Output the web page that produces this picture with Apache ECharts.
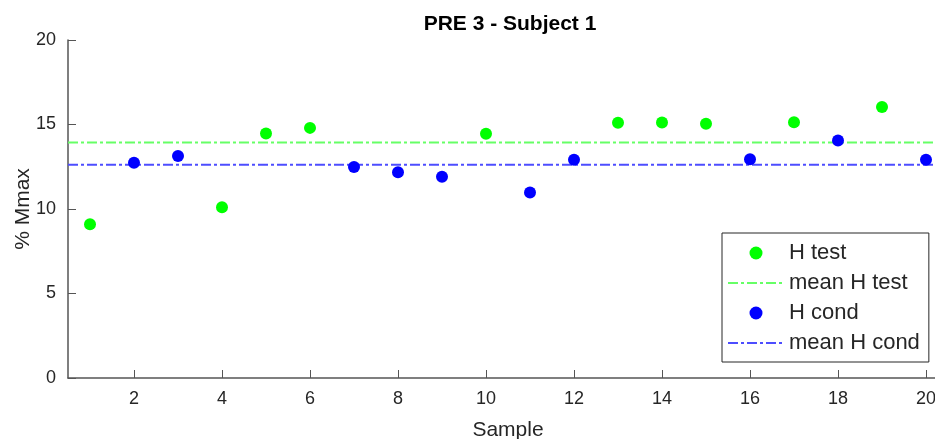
<!DOCTYPE html>
<html lang="en">
<head>
    <meta charset="UTF-8">
    <title>PRE 3 - Subject 1</title>
    <style>
        html, body { margin: 0; padding: 0; background: #fff; }
        #main { width: 935px; height: 439px; }
    </style>
</head>
<body>
    <div id="main"></div>
    <script src="https://cdn.jsdelivr.net/npm/echarts@6/dist/echarts.min.js"></script>
    <script>
        // samples and values (% Mmax)
        var testSamples = [1, 4, 5, 6, 10, 13, 14, 15, 17, 19];
        var testValues = [9.10, 10.10, 14.47, 14.80, 14.45, 15.10, 15.12, 15.04, 15.14, 16.03];
        var condSamples = [2, 3, 7, 8, 9, 11, 12, 16, 18, 20];
        var condValues = [12.74, 13.13, 12.48, 12.17, 11.91, 10.97, 12.92, 12.95, 14.06, 12.92];
        var xTicks = [2, 4, 6, 8, 10, 12, 14, 16, 18, 20];
        var yTicks = [0, 5, 10, 15, 20];
        var xRange = [0.5, 20.5];

        function mean(arr) {
            var s = 0;
            arr.forEach(function (v) { s += v; });
            return s / arr.length;
        }
        function pairs(xs, ys) {
            return xs.map(function (x, i) { return [x, ys[i]]; });
        }
        var testMean = mean(testValues);
        var condMean = mean(condValues);

        var textColor = '#262626';
        var axisColor = '#555555';
        var dashDot = [10, 3, 3, 3];
        var noSymbol = 'rgba(0,0,0,0)';

        var chart = echarts.init(document.getElementById('main'));
        chart.setOption({
            animation: false,
            title: {
                text: 'PRE 3 - Subject 1',
                left: 505,
                top: 9,
                textAlign: 'center',
                textStyle: { fontFamily: 'Liberation Sans', fontSize: 21, fontWeight: 'bold', color: '#000' }
            },
            grid: { left: 68, top: 40, width: 880, height: 338, outerBoundsMode: 'none', containLabel: false },
            legend: {
                orient: 'vertical',
                left: 722,
                top: 233,
                padding: [8, 9, 7, 5],
                itemWidth: 56,
                itemHeight: 13,
                itemGap: 6,
                borderColor: '#262626',
                borderWidth: 1,
                backgroundColor: '#fff',
                textStyle: { fontFamily: 'Liberation Sans', fontSize: 22, color: textColor, lineHeight: 24 },
                data: ['H test', 'mean H test', 'H cond', 'mean H cond']
            },
            xAxis: {
                type: 'value',
                min: xRange[0],
                max: xRange[1],
                name: 'Sample',
                nameLocation: 'middle',
                nameGap: 42,
                nameMoveOverlap: false,
                nameTextStyle: { fontFamily: 'Liberation Sans', fontSize: 21, color: textColor },
                splitLine: { show: false },
                axisLine: { onZero: false, lineStyle: { color: axisColor, width: 1.5 } },
                axisTick: { inside: true, length: 8, customValues: xTicks, lineStyle: { color: axisColor } },
                axisLabel: {
                    customValues: xTicks,
                    margin: 12,
                    fontFamily: 'Liberation Sans',
                    fontSize: 18,
                    color: textColor
                }
            },
            yAxis: {
                type: 'value',
                min: 0,
                max: 20,
                interval: 5,
                name: '% Mmax',
                nameLocation: 'middle',
                nameGap: 34,
                nameMoveOverlap: false,
                nameTextStyle: { fontFamily: 'Liberation Sans', fontSize: 21, color: textColor },
                splitLine: { show: false },
                axisLine: { show: true, lineStyle: { color: axisColor, width: 1.5 } },
                axisTick: { show: true, inside: true, length: 8, lineStyle: { color: axisColor } },
                axisLabel: {
                    customValues: yTicks,
                    margin: 12,
                    fontFamily: 'Liberation Sans',
                    fontSize: 18,
                    color: textColor
                }
            },
            series: [
                {
                    name: 'H test',
                    type: 'scatter',
                    symbol: 'circle',
                    symbolSize: 12,
                    itemStyle: { color: '#00ff00', opacity: 1 },
                    data: pairs(testSamples, testValues),
                    z: 3
                },
                {
                    name: 'mean H test',
                    type: 'line',
                    symbol: 'none',
                    lineStyle: { color: '#66ff66', width: 2, type: dashDot },
                    itemStyle: { color: noSymbol },
                    data: [[xRange[0], testMean], [xRange[1], testMean]],
                    z: 2
                },
                {
                    name: 'H cond',
                    type: 'scatter',
                    symbol: 'circle',
                    symbolSize: 12,
                    itemStyle: { color: '#0000ff', opacity: 1 },
                    data: pairs(condSamples, condValues),
                    z: 3
                },
                {
                    name: 'mean H cond',
                    type: 'line',
                    symbol: 'none',
                    lineStyle: { color: '#4d4dff', width: 2, type: dashDot },
                    itemStyle: { color: noSymbol },
                    data: [[xRange[0], condMean], [xRange[1], condMean]],
                    z: 2
                }
            ]
        });
    </script>
</body>
</html>
